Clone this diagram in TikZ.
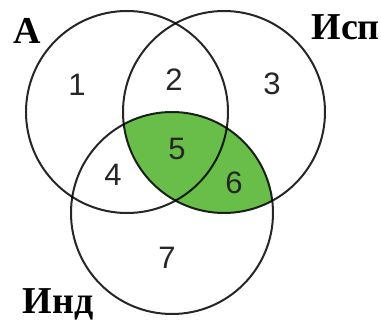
\documentclass[tikz,border=0pt]{standalone}
\usepackage{fontspec}
\setmainfont{Liberation Serif}
\newfontfamily\numfont{Liberation Sans}
\begin{document}
\begin{tikzpicture}[x=1pt,y=-1pt,
  ring/.style={circle,draw=black,draw opacity=0.85,line width=2pt,minimum size=202pt,inner sep=0pt},
  num/.style={font=\numfont\fontsize{31}{33}\selectfont,text=black!85,inner sep=0pt},
  setlabel/.style={font=\bfseries\fontsize{38}{40}\selectfont,inner sep=0pt}]
\useasboundingbox[fill=white] (0,0) rectangle (381,321);
\begin{scope}
  \clip (224,112) circle[radius=101pt];
  \fill[fill={rgb,255:red,104;green,190;blue,72}] (172,213) circle[radius=101pt];
\end{scope}
\node[ring] (A) at (127,112) {};
\node[ring] (Isp) at (224,112) {};
\node[ring] (Ind) at (172,213) {};
\node[num] (n1) at (77,85) {1};
\node[num] (n2) at (174,80) {2};
\node[num] (n3) at (272,84) {3};
\node[num] (n4) at (113,175) {4};
\node[num] (n5) at (177,149) {5};
\node[num] (n6) at (234,183) {6};
\node[num] (n7) at (167,258) {7};
\node[setlabel] (lA) at (27,31) {А};
\node[setlabel,anchor=east] (lIsp) at (380,27) {Исп};
\node[setlabel] (lInd) at (58,304) {Инд};
\end{tikzpicture}
\end{document}
